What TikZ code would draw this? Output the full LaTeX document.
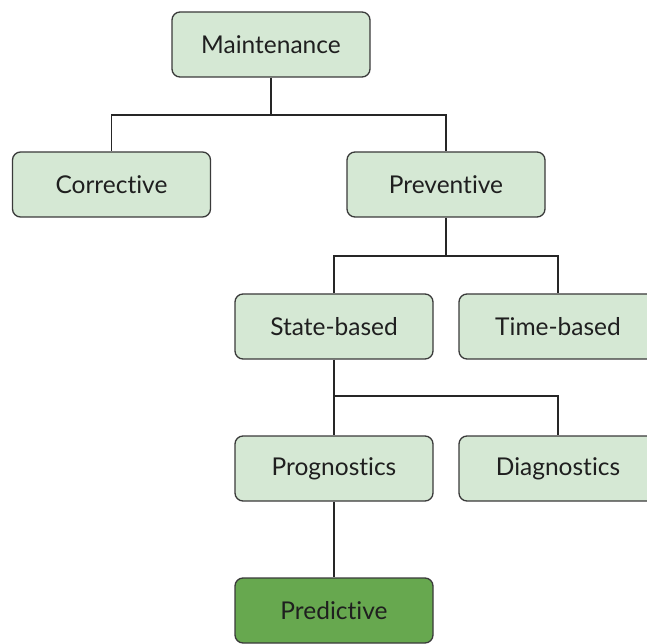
\documentclass[tikz,border=0pt]{standalone}
\usepackage{fontspec}
\setmainfont{Lato}[Ligatures={NoCommon}]
\definecolor{boxfill}{HTML}{D5E8D4}
\definecolor{boxline}{HTML}{3A3A3A}
\definecolor{predfill}{HTML}{67A84F}
\definecolor{txt}{HTML}{1F1F1F}
\tikzset{
  box/.style={draw=boxline, line width=1.3pt, fill=boxfill, rounded corners=8pt,
    minimum width=198pt, minimum height=65pt, inner sep=0pt,
    font=\fontsize{24.5}{28}\selectfont, text=txt},
  pred/.style={box, fill=predfill},
  conn/.style={draw=black!85, line width=1.2pt}
}
\begin{document}
\begin{tikzpicture}[x=1pt,y=1pt]
\useasboundingbox (0,0) rectangle (647,643);
\clip (0,0) rectangle (647,643);
\node[box] (maint) at (271,598.5) {Maintenance};
\node[box] (corr) at (111.5,458.5) {Corrective};
\node[box] (prev) at (446,458.5) {Preventive};
\node[box] (state) at (334,316.5) {State-based};
\node[box] (time) at (558,316.5) {Time-based};
\node[box] (prog) at (334,174.5) {Prognostics};
\node[box] (diag) at (558,174.5) {Diagnostics};
\node[pred] (pred) at (334,32.5) {Predictive};
\coordinate (j1) at (271,528);
\coordinate (j2) at (446,387);
\coordinate (j3) at (334,247);
\draw[conn] (maint.south) -- (j1) -| (corr.north);
\draw[conn] (j1) -| (prev.north);
\draw[conn] (prev.south) -- (j2) -| (state.north);
\draw[conn] (j2) -| (time.north);
\draw[conn] (state.south) -- (prog.north);
\draw[conn] (j3) -| (diag.north);
\draw[conn] (prog.south) -- (pred.north);
\end{tikzpicture}
\end{document}
